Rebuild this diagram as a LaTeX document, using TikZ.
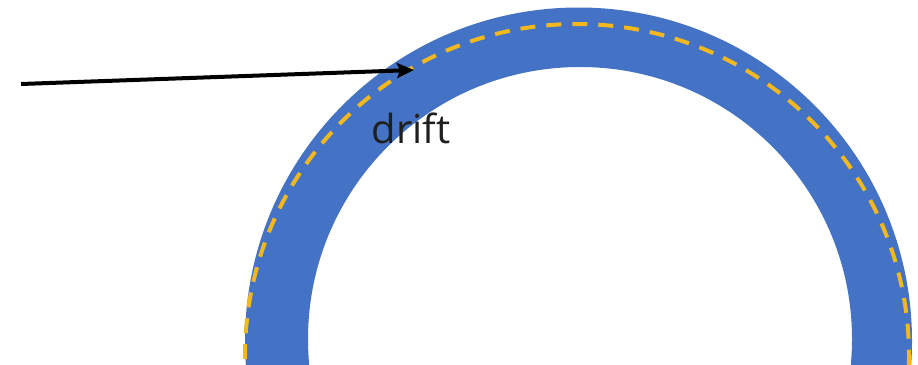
\documentclass[tikz,border=0pt]{standalone}
\usepackage{fontspec}
\setmainfont{Open Sans}
\usetikzlibrary{arrows.meta}
\definecolor{ringblue}{HTML}{4472C4}
\definecolor{laneyellow}{HTML}{F2B81E}
\definecolor{labelgray}{HTML}{1F1F1F}
\tikzset{
  lane/.style={laneyellow, line width=4pt, dash pattern=on 15pt off 11pt},
  pointer/.style={black, line width=4pt, -{Stealth[length=17pt,width=15pt,inset=3pt]}},
  tag/.style={text=labelgray, font=\fontsize{40}{42}\selectfont, inner sep=0pt}
}
\begin{document}
\begin{tikzpicture}[x=1pt,y=-1pt]
  \useasboundingbox (0,0) rectangle (918,364);
  \clip (0,0) rectangle (918,364);
  % the track: a thick blue ring, cut by the lower edge
  \fill[ringblue, even odd rule]
    (578.5,341) circle[radius=333.5]
    (580,339) circle[radius=272];
  % dashed lane drifting towards the outer edge
  \draw[lane] (577,356) circle[radius=332];
  % pointer and its label
  \coordinate (pstart) at (21,84);
  \coordinate (ptip) at (414,70);
  \draw[pointer] (pstart) -- (ptip);
  \node[tag, anchor=base] (drift) at (411,143) {drift};
\end{tikzpicture}
\end{document}
